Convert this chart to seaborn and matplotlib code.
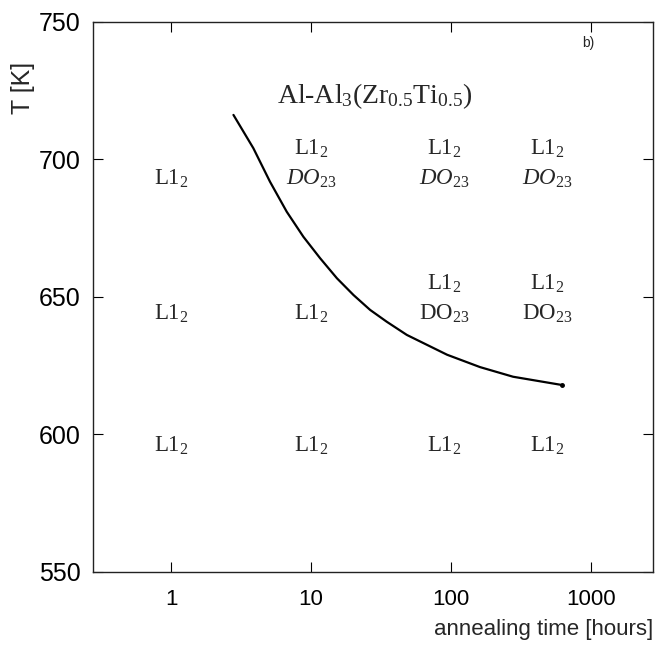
import matplotlib
matplotlib.use("Agg")
import matplotlib.pyplot as plt
import seaborn as sns
import pandas as pd

# boundary curve
time_h = [2.79, 3.87, 5.09, 6.7, 8.81, 11.6, 15.3, 20.1, 26.4, 34.7, 48.3,
          93.6, 161, 277, 618]
temp_k = [716.2, 704.1, 691.9, 681.0, 671.9, 664.1, 656.8, 650.7, 645.3, 641.0,
          636.2, 629, 624.5, 621, 618]

# phase labels: (time, temperature, upper line)
label_time = [1, 10, 90, 485, 1, 10, 90, 485, 1, 10, 90, 485]
label_temp = [693, 693, 693, 693, 644, 644, 644, 644, 596, 596, 596, 596]
label_top = [None, "DO", "DO", "DO", None, None, "DO", "DO", None, None, None, None]

x_ticks = [1, 10, 100, 1000]
y_ticks = [550, 600, 650, 700, 750]


def main():
    sns.set_style("ticks")
    plt.rcParams["font.family"] = ["Liberation Sans", "DejaVu Sans"]
    plt.rcParams["mathtext.fontset"] = "custom"
    plt.rcParams["mathtext.rm"] = "Liberation Serif"
    plt.rcParams["mathtext.it"] = "Liberation Serif:italic"

    fig = plt.figure(figsize=(6.61, 6.54), dpi=100)
    ax = fig.add_axes([0.1407, 0.1254, 0.8473, 0.841])

    df = pd.DataFrame({"t": time_h, "T": temp_k})
    sns.lineplot(data=df, x="t", y="T", ax=ax, color="black", lw=1.6, sort=False)
    ax.plot(time_h[-1], temp_k[-1], "o", color="black", ms=2.5)

    ax.set_xscale("log")
    ax.set_xlim(0.277, 2770)
    ax.set_ylim(550, 750)
    ax.set_xticks(x_ticks)
    ax.set_xticklabels([str(v) for v in x_ticks])
    ax.minorticks_off()
    ax.set_yticks(y_ticks)
    ax.tick_params(direction="in", length=7, width=0.8,
                   top=True, right=True, pad=9, colors="black")
    ax.tick_params(axis="x", labelsize=16, pad=12)
    ax.tick_params(axis="y", labelsize=18)
    for s in ax.spines.values():
        s.set_linewidth(1.0)
        s.set_color("#222222")

    ax.set_xlabel("annealing time [hours]", fontsize=16, loc="right", labelpad=7)
    ax.set_ylabel("T [K]", fontsize=18, loc="top")
    ax.yaxis.set_label_coords(-0.103, 0.927)

    for t, T, top in zip(label_time, label_temp, label_top):
        if top is None:
            ax.text(t, T, r"$\mathrm{L1_2}$", ha="center", va="center", fontsize=16.5)
        else:
            ax.text(t, T + 11, r"$\mathrm{L1_2}$", ha="center", va="center", fontsize=16.5)
            if T > 680:
                ax.text(t, T, r"$\mathit{DO}_{23}$", ha="center", va="center", fontsize=16.5)
            else:
                ax.text(t, T, r"$\mathrm{DO}_{23}$", ha="center", va="center", fontsize=16.5)

    ax.text(28.6, 723, r"$\mathrm{Al\text{-}Al_3(Zr_{0.5}Ti_{0.5})}$",
            ha="center", va="center", fontsize=20)
    ax.text(0.885, 0.962, "b)", transform=ax.transAxes, ha="center", va="center",
            fontsize=10)

    fig.savefig("out.png", dpi=100)


if __name__ == "__main__":
    main()
